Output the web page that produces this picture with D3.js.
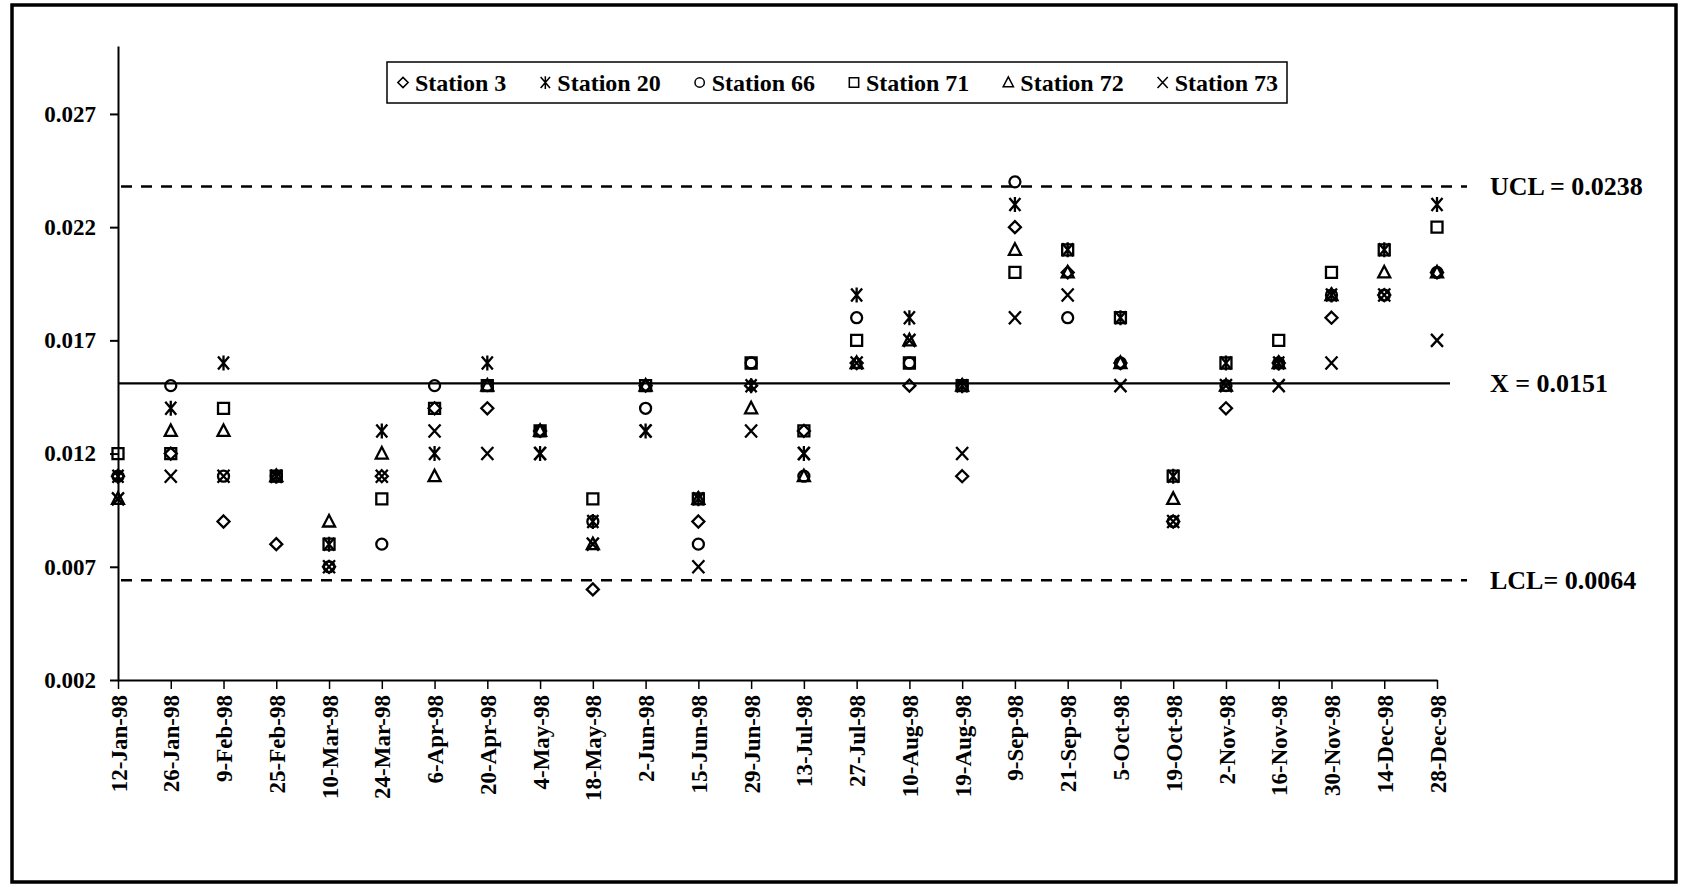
<!DOCTYPE html>
<html>
<head>
<meta charset="utf-8">
<script src="https://cdn.jsdelivr.net/npm/d3@7"></script>
<style>
  html, body { margin: 0; padding: 0; background: #fff; }
  svg { display: block; }
  text { font-family: "Liberation Serif", "Times New Roman", serif; font-weight: bold; fill: #000; }
</style>
</head>
<body>
<svg id="chart" width="1687" height="887"></svg>
<script>
// Sampling dates (1998)
const dates = ["12-Jan-98","26-Jan-98","9-Feb-98","25-Feb-98","10-Mar-98","24-Mar-98","6-Apr-98","20-Apr-98",
  "4-May-98","18-May-98","2-Jun-98","15-Jun-98","29-Jun-98","13-Jul-98","27-Jul-98","10-Aug-98","19-Aug-98",
  "9-Sep-98","21-Sep-98","5-Oct-98","19-Oct-98","2-Nov-98","16-Nov-98","30-Nov-98","14-Dec-98","28-Dec-98"];

// Measured values per station
const station3  = [0.011,0.012,0.009,0.008,0.007,0.011,0.014,0.014,0.013,0.006,0.015,0.009,0.015,0.013,0.016,0.015,0.011,0.022,0.020,0.016,0.009,0.014,0.016,0.018,0.019,0.020];
const station20 = [0.011,0.014,0.016,0.011,0.008,0.013,0.012,0.016,0.012,0.009,0.013,0.010,0.015,0.012,0.019,0.018,0.015,0.023,0.021,0.018,0.011,0.016,0.016,0.019,0.021,0.023];
const station66 = [0.011,0.015,0.011,0.011,0.007,0.008,0.015,0.015,0.013,0.009,0.014,0.008,0.016,0.011,0.018,0.016,0.015,0.024,0.018,0.016,0.009,0.015,0.016,0.019,0.019,0.020];
const station71 = [0.012,0.012,0.014,0.011,0.008,0.010,0.014,0.015,0.013,0.010,0.015,0.010,0.016,0.013,0.017,0.016,0.015,0.020,0.021,0.018,0.011,0.016,0.017,0.020,0.021,0.022];
const station72 = [0.010,0.013,0.013,0.011,0.009,0.012,0.011,0.015,0.013,0.008,0.015,0.010,0.014,0.011,0.016,0.017,0.015,0.021,0.020,0.016,0.010,0.015,0.016,0.019,0.020,0.020];
const station73 = [0.010,0.011,0.011,0.011,0.007,0.011,0.013,0.012,0.012,0.008,0.013,0.007,0.013,0.012,0.016,0.017,0.012,0.018,0.019,0.015,0.009,0.015,0.015,0.016,0.019,0.017];

const stationNames = ["Station 3","Station 20","Station 66","Station 71","Station 72","Station 73"];
const stationSymbols = ["diamond","asterisk","circle","square","triangle","cross"];
const stationValues = [station3, station20, station66, station71, station72, station73];

// Control limits
const limitValues = [0.0238, 0.0151, 0.0064];
const limitLabels = ["UCL = 0.0238", "X = 0.0151", "LCL= 0.0064"];
const limitDashed = [true, false, true];

// Axis settings
const yDomain = [0.002, 0.030];
const yTickValues = [0.002, 0.007, 0.012, 0.017, 0.022, 0.027];

const svg = d3.select("#chart");

// Outer frame
svg.append("rect")
  .attr("x", 12).attr("y", 5).attr("width", 1664).attr("height", 877)
  .attr("fill", "none").attr("stroke", "#000").attr("stroke-width", 3.5);

const x = d3.scalePoint().domain(dates).range([118, 1437]);
const y = d3.scaleLinear().domain(yDomain).range([680, 46]);

// Marker shapes
function symbolPath(type) {
  switch (type) {
    case "diamond":  return "M0,-6L6,0L0,6L-6,0Z";
    case "square":   return "M-5.5,-5.5H5.5V5.5H-5.5Z";
    case "triangle": return "M0,-6.5L6,5H-6Z";
    case "circle":   return "M5.5,0A5.5,5.5 0 1,1 -5.5,0A5.5,5.5 0 1,1 5.5,0Z";
    case "cross":    return "M-6,-6.5L6,6.5M6,-6.5L-6,6.5";
    case "asterisk": return "M-5.5,-6.5L5.5,6.5M5.5,-6.5L-5.5,6.5M0,-7.5V7.5";
  }
}

// Control limit lines
const lineEnds = [1467, 1450, 1467];
limitValues.forEach((v, i) => {
  svg.append("line")
    .attr("x1", x(dates[0]) + (limitDashed[i] ? 3 : 0)).attr("x2", lineEnds[i])
    .attr("y1", y(v)).attr("y2", y(v))
    .attr("stroke", "#000").attr("stroke-width", limitDashed[i] ? 2.5 : 2.2)
    .attr("stroke-dasharray", limitDashed[i] ? "11,9" : null);
  svg.append("text")
    .attr("x", 1490).attr("y", y(v)).attr("dy", "0.35em")
    .style("font-size", "26px")
    .text(limitLabels[i]);
});

// Y axis
const yAxis = svg.append("g")
  .attr("transform", `translate(${x(dates[0])},0)`)
  .call(d3.axisLeft(y).tickValues(yTickValues).tickSize(8).tickSizeOuter(0).tickPadding(14)
    .tickFormat(d3.format(".3f")));
yAxis.select(".domain").attr("stroke-width", 2);
yAxis.selectAll(".tick line").attr("stroke-width", 2);
yAxis.selectAll("text")
  .style("font-family", "'Liberation Serif', serif").style("font-weight", "bold")
  .style("font-size", "23px").attr("fill", "#000");

// X axis
const xAxis = svg.append("g")
  .attr("transform", `translate(0,${y(yDomain[0])})`)
  .call(d3.axisBottom(x).tickSize(9).tickSizeOuter(0));
xAxis.select(".domain").attr("stroke-width", 2);
xAxis.selectAll(".tick line").attr("stroke-width", 1.5);
xAxis.selectAll("text")
  .attr("transform", "rotate(-90)")
  .attr("x", -15).attr("y", 0).attr("dy", "0.35em")
  .style("text-anchor", "end")
  .style("font-family", "'Liberation Serif', serif").style("font-weight", "bold")
  .style("font-size", "23px").attr("fill", "#000");

// Data markers
stationValues.forEach((vals, s) => {
  svg.append("g").selectAll("path")
    .data(vals.map((v, i) => ({ date: dates[i], value: v })))
    .join("path")
    .attr("transform", d => `translate(${x(d.date)},${y(d.value)})`)
    .attr("d", symbolPath(stationSymbols[s]))
    .attr("fill", "none").attr("stroke", "#000").attr("stroke-width", 2.3);
});

// Legend
const legendBox = { x: 387, y: 62, w: 900, h: 41 };
svg.append("rect")
  .attr("x", legendBox.x).attr("y", legendBox.y).attr("width", legendBox.w).attr("height", legendBox.h)
  .attr("fill", "#fff").attr("stroke", "#000").attr("stroke-width", 1.5);
const legend = svg.append("g");
const cy = legendBox.y + legendBox.h / 2;
const items = stationNames.map((name, i) => {
  const g = legend.append("g");
  g.append("path").attr("d", symbolPath(stationSymbols[i]))
    .attr("fill", "none").attr("stroke", "#000").attr("stroke-width", 1.8)
    .attr("transform", "scale(0.85)");
  const t = g.append("text").attr("x", 12).attr("dy", "0.35em").style("font-size", "24px").text(name);
  return { g, w: 12 + t.node().getComputedTextLength() + 6 };
});
const contentStart = legendBox.x + 10, contentEnd = legendBox.x + legendBox.w - 9;
const totalW = d3.sum(items, d => d.w);
const gap = (contentEnd - contentStart - totalW) / (items.length - 1);
let cx = contentStart;
items.forEach(it => {
  it.g.attr("transform", `translate(${cx + 6},${cy})`);
  cx += it.w + gap;
});
</script>
</body>
</html>
